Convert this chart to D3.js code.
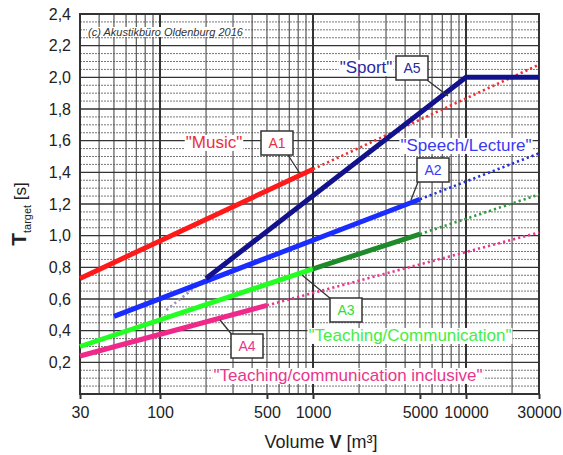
<!DOCTYPE html>
<html>
<head>
<meta charset="utf-8">
<script src="https://cdn.jsdelivr.net/npm/d3@7"></script>
<style>
  body { margin: 0; background: #fff; }
  text { font-family: Arial, "Liberation Sans", sans-serif; }
</style>
</head>
<body>
<div id="chart"></div>
<script>
// tick labels
const xTicks = [30, 100, 500, 1000, 5000, 10000, 30000]
const yTicks = [0.2, 0.4, 0.6, 0.8, 1.0, 1.2, 1.4, 1.6, 1.8, 2.0, 2.2, 2.4]

// series, [volume m3, T s]
const musicSolid = [[30, 0.73], [1000, 1.42]]
const musicDotted = [[1000, 1.42], [30000, 2.08]]
const speechSolid = [[50, 0.49], [5000, 1.23]]
const speechDotted = [[5000, 1.23], [30000, 1.52]]
const teachLight = [[30, 0.30], [1000, 0.79]]
const teachDark = [[1000, 0.79], [5000, 1.01]]
const teachDotted = [[5000, 1.01], [30000, 1.26]]
const inclSolid = [[30, 0.24], [500, 0.56]]
const inclDotted = [[500, 0.56], [30000, 1.02]]
const sportDotted = [[110, 0.53], [200, 0.73]]
const sportSolid = [[200, 0.73], [10000, 2.0], [30000, 2.0]]

const width = 563
const height = 455
const margin = { top: 14, right: 24, bottom: 60, left: 80 }

const svg = d3.select('#chart')
  .append('svg')
  .attr('width', width)
  .attr('height', height)

const x = d3.scaleLog()
  .domain([30, 30000])
  .range([margin.left, width - margin.right])

const y = d3.scaleLinear()
  .domain([0, 2.4])
  .range([height - margin.bottom - 1, margin.top])

const x0 = x.range()[0], x1 = x.range()[1]
const y0 = y.range()[0], y1 = y.range()[1]

// grid
const grid = svg.append('g')

const minorY = d3.range(0.05, 2.4, 0.05).filter(v => Math.abs(v / 0.2 - Math.round(v / 0.2)) > 0.01)
grid.selectAll('line.hminor').data(minorY).enter()
  .append('line')
  .attr('x1', x0).attr('x2', x1)
  .attr('y1', d => y(d)).attr('y2', d => y(d))
  .attr('stroke', '#777')
  .attr('stroke-width', 1)
  .attr('stroke-dasharray', '2 1')

const minorX = []
;[10, 100, 1000, 10000].forEach(dec => {
  for (let k = 2; k <= 9; k++) {
    const v = dec * k
    if (v > 30 && v < 30000) minorX.push(v)
  }
})
grid.selectAll('line.vminor').data(minorX).enter()
  .append('line')
  .attr('x1', d => x(d)).attr('x2', d => x(d))
  .attr('y1', y0).attr('y2', y1)
  .attr('stroke', '#4a4a4a')
  .attr('stroke-width', 1.1)

grid.selectAll('line.hmajor').data(yTicks.slice(0, -1)).enter()
  .append('line')
  .attr('x1', x0).attr('x2', x1)
  .attr('y1', d => y(d)).attr('y2', d => y(d))
  .attr('stroke', '#333')
  .attr('stroke-width', 1.4)

grid.selectAll('line.vmajor').data([100, 1000, 10000]).enter()
  .append('line')
  .attr('x1', d => x(d)).attr('x2', d => x(d))
  .attr('y1', y0).attr('y2', y1)
  .attr('stroke', '#333')
  .attr('stroke-width', 2)

// axes
const xAxis = svg.append('g')
  .attr('transform', `translate(0,${y0})`)
  .call(d3.axisBottom(x).tickValues(xTicks).tickFormat(d3.format('d')).tickSize(5).tickPadding(8))
const yAxis = svg.append('g')
  .attr('transform', `translate(${x0},0)`)
  .call(d3.axisLeft(y).tickValues(yTicks).tickFormat(d => d3.format('.1f')(d).replace('.', ',')).tickSize(0).tickPadding(9))

;[xAxis, yAxis].forEach(a => {
  a.select('.domain').remove()
  a.selectAll('line').attr('stroke', '#333').attr('stroke-width', 2)
  a.selectAll('text').attr('font-size', 16).attr('fill', '#222')
})

// frame
svg.append('rect')
  .attr('x', x0).attr('y', y1)
  .attr('width', x1 - x0).attr('height', y0 - y1)
  .attr('fill', 'none')
  .attr('stroke', '#333')
  .attr('stroke-width', 2)

// series
const line = d3.line()
  .x(d => x(d[0]))
  .y(d => y(d[1]))

const plot = svg.append('g')

function solid(data, color) {
  plot.append('path')
    .attr('d', line(data))
    .attr('fill', 'none')
    .attr('stroke', color)
    .attr('stroke-width', 5)
    .attr('stroke-linejoin', 'round')
}
function dotted(data, color) {
  plot.append('path')
    .attr('d', line(data))
    .attr('fill', 'none')
    .attr('stroke', color)
    .attr('stroke-width', 2.6)
    .attr('stroke-dasharray', '2.2 3')
}

dotted(musicDotted, '#f03030')
dotted(speechDotted, '#2233dd')
dotted(teachDotted, '#2f9a3a')
dotted(inclDotted, '#e8368c')
dotted(sportDotted, '#8f95b8')
solid(musicSolid, '#ff1a1a')
solid(inclSolid, '#f0288a')
solid(teachLight, '#22ff22')
solid(teachDark, '#1f8a2a')
solid(speechSolid, '#1a2cff')
solid(sportSolid, '#12128c')

// annotations
const notes = svg.append('g')

function label(txt, cx, cy, color, size) {
  const g = notes.append('g')
  const t = g.append('text')
    .attr('x', cx).attr('y', cy)
    .attr('dy', '0.35em')
    .attr('text-anchor', 'middle')
    .attr('font-size', size || 17)
    .attr('fill', color)
    .text(txt)
  const b = t.node().getBBox()
  g.insert('rect', 'text')
    .attr('x', b.x - 1).attr('y', b.y + 2)
    .attr('width', b.width + 2).attr('height', b.height - 3)
    .attr('fill', '#fff')
}

function box(txt, bx, by, color, lx1, ly1, lx2, ly2) {
  notes.append('line')
    .attr('x1', lx1).attr('y1', ly1)
    .attr('x2', lx2).attr('y2', ly2)
    .attr('stroke', '#333')
    .attr('stroke-width', 1.3)
  notes.append('rect')
    .attr('x', bx).attr('y', by)
    .attr('width', 32).attr('height', 24)
    .attr('fill', '#fff')
    .attr('stroke', '#333')
    .attr('stroke-width', 1.5)
  notes.append('text')
    .attr('x', bx + 16).attr('y', by + 12)
    .attr('dy', '0.36em')
    .attr('text-anchor', 'middle')
    .attr('font-size', 14)
    .attr('fill', color)
    .text(txt)
}

const cr = notes.append('text')
  .attr('x', 88).attr('y', 36)
  .attr('font-size', 11)
  .attr('font-style', 'italic')
  .attr('fill', '#333')
  .text('(c) Akustikbüro Oldenburg 2016')
const crb = cr.node().getBBox()
notes.insert('rect', 'text')
  .attr('x', crb.x - 1).attr('y', crb.y + 1)
  .attr('width', crb.width + 2).attr('height', crb.height - 2)
  .attr('fill', '#fff')

label('"Music"', 214, 142, '#e8303c')
box('A1', 261, 131, '#e8303c', 288, 155, 299, 172)

label('"Sport"', 366, 67, '#2a2aa0')
box('A5', 396, 56, '#2a2aa0', 427, 80, 448, 96)

label('"Speech/Lecture"', 466, 145, '#3a3af0')
box('A2', 417, 158, '#3a3af0', 418, 182, 411, 200)

box('A3', 330, 298, '#33dd33', 331, 299, 302, 275)
label('"Teaching/Communication"', 410, 335, '#44ee44')

box('A4', 231, 334, '#e8368c', 233, 336, 220, 320)
label('"Teaching/communication inclusive"', 348, 375, '#e8368c')

// axis titles
const yt = svg.append('text')
  .attr('transform', 'translate(26,214) rotate(-90)')
  .attr('text-anchor', 'middle')
  .attr('fill', '#222')
yt.append('tspan').attr('font-size', 21).attr('font-weight', 'bold').text('T')
yt.append('tspan').attr('font-size', 11).attr('dy', 5).text('target')
yt.append('tspan').attr('font-size', 17).attr('dy', -5).text(' [s]')

const xt = svg.append('text')
  .attr('x', 321).attr('y', 448)
  .attr('text-anchor', 'middle')
  .attr('font-size', 18)
  .attr('fill', '#222')
xt.append('tspan').text('Volume ')
xt.append('tspan').attr('font-weight', 'bold').text('V')
xt.append('tspan').text(' [m³]')
</script>
</body>
</html>
